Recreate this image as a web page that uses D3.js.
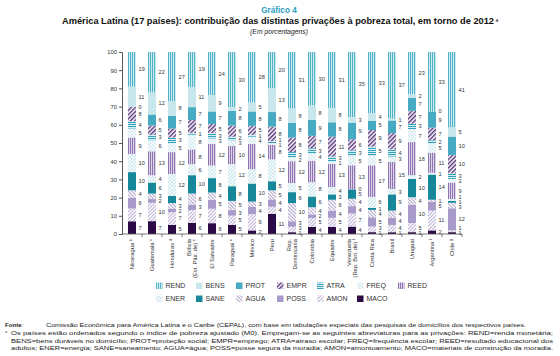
<!DOCTYPE html>
<html><head><meta charset="utf-8">
<script src="https://cdn.jsdelivr.net/npm/d3@7"></script>
<style>
html,body{margin:0;padding:0;background:#fff;}
svg{display:block;font-family:"Liberation Sans",Arial,sans-serif;}
</style></head>
<body>
<svg id="chart" width="560" height="356"></svg>
<script>
// ---------- DATA ----------
const countries = ["Nicaragua","Guatemala","Honduras","Bolivia","El Salvador","Paraguai","México","Peru","Rep. Dominicana","Colombia","Equador","Venezuela","Costa Rica","Brasil","Uruguai","Argentina","Chile"];
const countryLabelLines = [["Nicaragua"],["Guatemala"],["Honduras"],["Bolivia","(Est. Plur. de)"],["El Salvador"],["Paraguai"],["México"],["Peru"],["Rep.","Dominicana"],["Colombia"],["Equador"],["Venezuela","(Rep. Bol. de)"],["Costa Rica"],["Brasil"],["Uruguai"],["Argentina"],["Chile"]];
const countryNotes = ["b","c","d","e","","e","","","","","","f","","","","f","g"];

const seriesKeys = ["MACO","AMON","POSS","AGUA","SANE","ENER","REED","FREQ","ATRA","EMPR","PROT","BENS","REND"];
const MACO = [7,7,5,6,6,5,2,11,1,4,4,4,1,1,1,2,1];
const AMON = [7,10,7,7,8,5,9,4,3,5,5,7,3,4,5,11,1];
const POSS = [6,2,2,3,5,3,4,4,3,2,4,4,5,4,10,5,12];
const AGUA = [4,3,3,6,4,5,3,5,10,4,6,4,4,4,4,1,3];
const SANE = [10,6,4,10,8,8,10,5,6,6,3,5,1,9,10,14,1];
const ENER = [10,4,12,6,7,12,8,12,5,8,4,0,6,3,2,1,1];
const REED = [9,13,12,8,12,10,14,8,12,12,13,13,17,15,18,11,9];
const FREQ = [5,6,5,8,3,3,4,1,2,4,1,5,5,3,7,5,2];
const ATRA = [4,3,3,1,3,2,1,1,3,3,3,3,5,4,3,2,3];
const EMPR = [8,5,5,7,5,6,5,8,8,7,11,6,9,9,7,7,10];
const PROT = [0,6,7,7,7,8,8,8,8,9,8,9,5,7,7,9,10];
const BENS = [11,12,8,11,9,2,5,13,8,8,8,3,4,1,2,0,5];
const REND = [19,22,27,19,24,30,28,20,31,30,31,35,33,37,23,33,41];
const seriesValues = {MACO,AMON,POSS,AGUA,SANE,ENER,REED,FREQ,ATRA,EMPR,PROT,BENS,REND};

const yTicks = [0,10,20,30,40,50,60,70,80,90,100];
const legendRows = [["REND","BENS","PROT","EMPR","ATRA","FREQ","REED"],["ENER","SANE","AGUA","POSS","AMON","MACO"]];

const titleTop = "Gráfico 4";
const titleMain = "América Latina (17 países): contribuição das distintas privações à pobreza total, em torno de 2012";
const subtitle = "(Em porcentagens)";
const sourceText = "Comissão Econômica para América Latina e o Caribe (CEPAL), com base em tabulações especiais das pesquisas de domicílios dos respectivos países.";
const noteLines = [
 "Os países estão ordenados segundo o índice de pobreza ajustado (M0). Empregam-se as seguintes abreviaturas para as privações: REND=renda monetária;",
 "BENS=bens duráveis no domicílio; PROT=proteção social; EMPR=emprego; ATRA=atraso escolar; FREQ=frequência escolar; REED=resultado educacional dos",
 "adultos; ENER=energia; SANE=saneamento; AGUA=água; POSS=posse segura da moradia; AMON=amontoamento; MACO=materiais de construção da moradia."
];

// ---------- STYLES ----------
const svg = d3.select("#chart");
const defs = svg.append("defs");
function stripes(id, bg, fg, size, lw, angle){
  const p = defs.append("pattern").attr("id",id).attr("patternUnits","userSpaceOnUse")
    .attr("width",size).attr("height",size);
  if(angle!==0) p.attr("patternTransform",`rotate(${angle})`);
  p.append("rect").attr("width",size).attr("height",size).attr("fill",bg);
  p.append("rect").attr("x",0).attr("y",0).attr("width",lw).attr("height",size).attr("fill",fg);
}
stripes("pREND","#cdebf1","#52b2c8",2,1,0);
stripes("pREED","#ddd3ea","#8e76ae",2,1,0);
stripes("pATRA","#d3edf2","#35a3bc",2,1,90);
stripes("pEMPR","#ffffff","#5a3a7e",3,1.5,45);
stripes("pFREQ","#ffffff","#c3e1ea",2.5,1,-45);
stripes("pENER","#ffffff","#bcdfe9",2.5,1,45);
stripes("pAGUA","#ffffff","#aaa1cb",2.5,1,-45);
stripes("pAMON","#ffffff","#b9acd6",2.5,1,45);
const fills = {
  REND:"url(#pREND)", BENS:"#c8e7ed", PROT:"#45aac2", EMPR:"url(#pEMPR)", ATRA:"url(#pATRA)",
  FREQ:"url(#pFREQ)", REED:"url(#pREED)", ENER:"url(#pENER)", SANE:"#17879a", AGUA:"url(#pAGUA)",
  POSS:"#a99bc9", AMON:"url(#pAMON)", MACO:"#2c0a45"
};

// ---------- SCALES ----------
const x = d3.scaleBand().domain(countries).range([122,462]).paddingInner(0.6).paddingOuter(0.3);
const y = d3.scaleLinear().domain([0,1]).range([234,52]);

const rows = countries.map((c,i)=>{ const o={country:c}; seriesKeys.forEach(k=>o[k]=seriesValues[k][i]); return o; });
const stacked = d3.stack().keys(seriesKeys).offset(d3.stackOffsetExpand)(rows);

// ---------- TITLES ----------
svg.append("text").attr("x",279).attr("y",13).attr("text-anchor","middle")
  .attr("font-size",8.2).attr("font-weight","bold").attr("fill","#27a0bf").text(titleTop);
const tm = svg.append("text").attr("x",62).attr("y",24).attr("font-size",8.4).attr("font-weight","bold").attr("fill","#111");
tm.append("tspan").text(titleMain).attr("textLength",432).attr("lengthAdjust","spacingAndGlyphs");
tm.append("tspan").attr("dx",1.5).attr("dy",-2.5).attr("font-size",5).attr("font-weight","normal").text("a");
svg.append("text").attr("x",279).attr("y",34).attr("text-anchor","middle")
  .attr("font-size",6.8).attr("font-style","italic").attr("fill","#222").text(subtitle);

// ---------- BARS ----------
const g = svg.append("g");
g.selectAll("g.layer").data(stacked).join("g").attr("class","layer")
  .attr("fill",d=>fills[d.key])
  .selectAll("rect").data(d=>d).join("rect")
  .attr("x",d=>x(d.data.country)).attr("width",x.bandwidth())
  .attr("y",d=>y(d[1])).attr("height",d=>Math.max(0,y(d[0])-y(d[1])));

// value labels, spread apart where segments are thin
const lab = svg.append("g").attr("font-size",5.6).attr("fill","#333");
const minGap = 5.0;
countries.forEach((c,i)=>{
  const items = stacked.map(layer=>({key:layer.key, v:layer[i].data[layer.key], y:y((layer[i][0]+layer[i][1])/2)}));
  // items ordered bottom (large y) to top (small y)
  for(let it=0; it<200; it++){
    let moved=false;
    for(let j=1;j<items.length;j++){
      const gap = items[j-1].y - items[j].y;
      if(gap < minGap){
        const d=(minGap-gap)/2;
        items[j-1].y += d; items[j].y -= d; moved=true;
      }
    }
    if(items[0].y > 233) { items[0].y = 233; }
    if(!moved) break;
  }
  items.forEach(it=>{
    lab.append("text").attr("x",x(c)+x.bandwidth()+2.6).attr("y",it.y).attr("dy","0.35em").text(it.v);
  });
});

// ---------- AXES ----------
const yAxis = svg.append("g").attr("transform","translate(122,0)")
  .call(d3.axisLeft(y).tickValues(yTicks.map(v=>v/100)).tickFormat(d=>Math.round(d*100)).tickSize(3).tickPadding(2));
yAxis.select(".domain").attr("stroke","#555");
yAxis.selectAll(".tick line").attr("stroke","#555");
yAxis.selectAll("text").attr("font-size",5.8).attr("fill","#333").attr("font-family","Liberation Sans, Arial, sans-serif");

svg.append("line").attr("x1",122).attr("x2",462).attr("y1",234).attr("y2",234).attr("stroke","#555").attr("stroke-width",0.8);
countries.forEach((c,i)=>{
  const bx = x(c)+x.bandwidth() + x.step()*0.3;
  svg.append("line").attr("x1",bx).attr("x2",bx).attr("y1",234).attr("y2",237).attr("stroke","#555").attr("stroke-width",0.8);
});

// category labels
countries.forEach((c,i)=>{
  const cx = x(c)+x.bandwidth()/2;
  const lines = countryLabelLines[i];
  const t = svg.append("text").attr("transform",`translate(${cx},239) rotate(-90)`)
    .attr("text-anchor","end").attr("font-size",5.8).attr("fill","#333");
  lines.forEach((ln,j)=>{
    t.append("tspan").attr("x",0).attr("dy", j===0 ? (lines.length>1?"-0.2em":"0.35em") : "1.1em").text(ln);
  });
  if(countryNotes[i]){
    const last = t.selectAll("tspan").nodes().pop();
    d3.select(last).text(lines[lines.length-1]+" ");
    t.append("tspan").attr("font-size",4).attr("dy","-0.6em").text(countryNotes[i]);
    t.append("tspan").attr("font-size",4).attr("dy","0.6em").text("");
  }
});

// ---------- LEGEND ----------
const legX = [156,196,236,277,317,357,398];
const legY = [286,299];
legendRows.forEach((row,r)=>{
  row.forEach((k,j)=>{
    const lg = svg.append("g").attr("transform",`translate(${legX[j]},${legY[r]})`);
    lg.append("rect").attr("x",0).attr("y",-3.5).attr("width",6.5).attr("height",6.5).attr("fill",fills[k]);
    lg.append("text").attr("x",9.5).attr("y",0).attr("dy","0.35em").attr("font-size",7).attr("fill","#333").text(k);
  });
});

// ---------- FOOTER ----------
const f = svg.append("g").attr("font-size",6.1).attr("fill","#1a1a1a");
f.append("text").attr("x",5).attr("y",327).attr("font-weight","bold").text("Fonte");
f.append("text").attr("x",22).attr("y",327).text(":");
f.append("text").attr("x",46).attr("y",327).attr("textLength",480).attr("lengthAdjust","spacingAndGlyphs").text(sourceText);
f.append("text").attr("x",5).attr("y",333).attr("font-size",4).text("a");
const noteY=[335,342.5,350];
noteLines.forEach((ln,i)=>{
  f.append("text").attr("x",11).attr("y",noteY[i]).attr("textLength",542).attr("lengthAdjust","spacingAndGlyphs").text(ln);
});
</script>
</body></html>
